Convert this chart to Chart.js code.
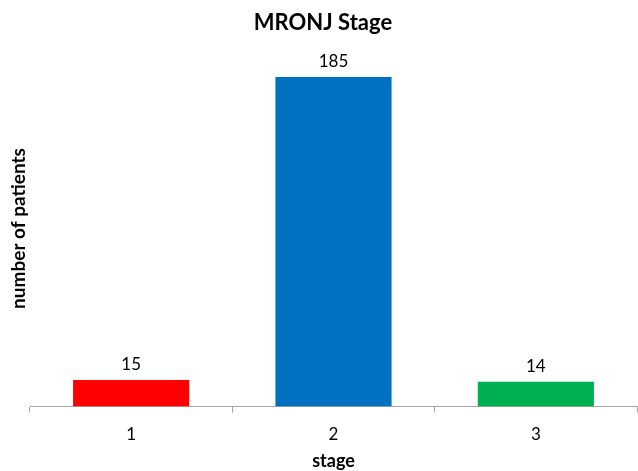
<!DOCTYPE html>
<html>
<head>
<meta charset="utf-8">
<script src="https://cdn.jsdelivr.net/npm/chart.js@4/dist/chart.umd.min.js"></script>
<style>
  html, body { margin: 0; padding: 0; background: #ffffff; }
  #wrap { width: 638px; height: 471px; }
</style>
</head>
<body>
<div id="wrap"><canvas id="c" width="638" height="471"></canvas></div>
<script>
const stages = ['1', '2', '3'];
const patients = [15, 185, 14];
const barColors = ['#ff0000', '#0070c0', '#00b050'];

const FONT = "Lato, 'Open Sans', 'Liberation Sans', sans-serif";

// Writes each bar's value just above it
const valueLabels = {
  id: 'valueLabels',
  afterDatasetsDraw(chart) {
    const ctx = chart.ctx;
    const meta = chart.getDatasetMeta(0);
    ctx.save();
    ctx.font = "17px " + FONT;
    ctx.fillStyle = '#000000';
    ctx.textAlign = 'center';
    ctx.textBaseline = 'alphabetic';
    meta.data.forEach((bar, i) => {
      ctx.fillText(String(patients[i]), bar.x, bar.y - 10);
    });
    ctx.restore();
  }
};

new Chart(document.getElementById('c'), {
  type: 'bar',
  data: {
    labels: stages,
    datasets: [{
      data: patients,
      backgroundColor: barColors,
      borderWidth: 0,
      categoryPercentage: 1.0,
      barPercentage: 0.574
    }]
  },
  options: {
    responsive: false,
    animation: false,
    layout: { padding: { left: 9, right: 1, top: 8, bottom: 1 } },
    plugins: {
      legend: { display: false },
      tooltip: { enabled: false },
      title: {
        display: true,
        text: 'MRONJ Stage',
        color: '#000000',
        font: { family: FONT, size: 22, weight: 'bold', lineHeight: 1.2 },
        padding: { top: 2, bottom: 14 }
      }
    },
    scales: {
      x: {
        grid: {
          display: true,
          offset: true,
          drawOnChartArea: false,
          tickLength: 6,
          color: '#a6a6a6'
        },
        border: { display: true, color: '#a6a6a6', width: 1 },
        ticks: {
          color: '#000000',
          font: { family: FONT, size: 17, lineHeight: 1.2 },
          padding: 12
        },
        title: {
          display: true,
          text: 'stage',
          color: '#000000',
          font: { family: FONT, size: 18, weight: 'bold', lineHeight: 1 },
          padding: { top: -5, bottom: 0 }
        }
      },
      y: {
        min: 0,
        max: 200,
        grid: { display: false, drawTicks: false },
        border: { display: false },
        ticks: { display: false },
        title: {
          display: true,
          text: 'number of patients',
          color: '#000000',
          font: { family: FONT, size: 19, weight: 'bold', lineHeight: 1 },
          padding: { top: 0, bottom: 2 }
        }
      }
    }
  },
  plugins: [valueLabels]
});
</script>
</body>
</html>
